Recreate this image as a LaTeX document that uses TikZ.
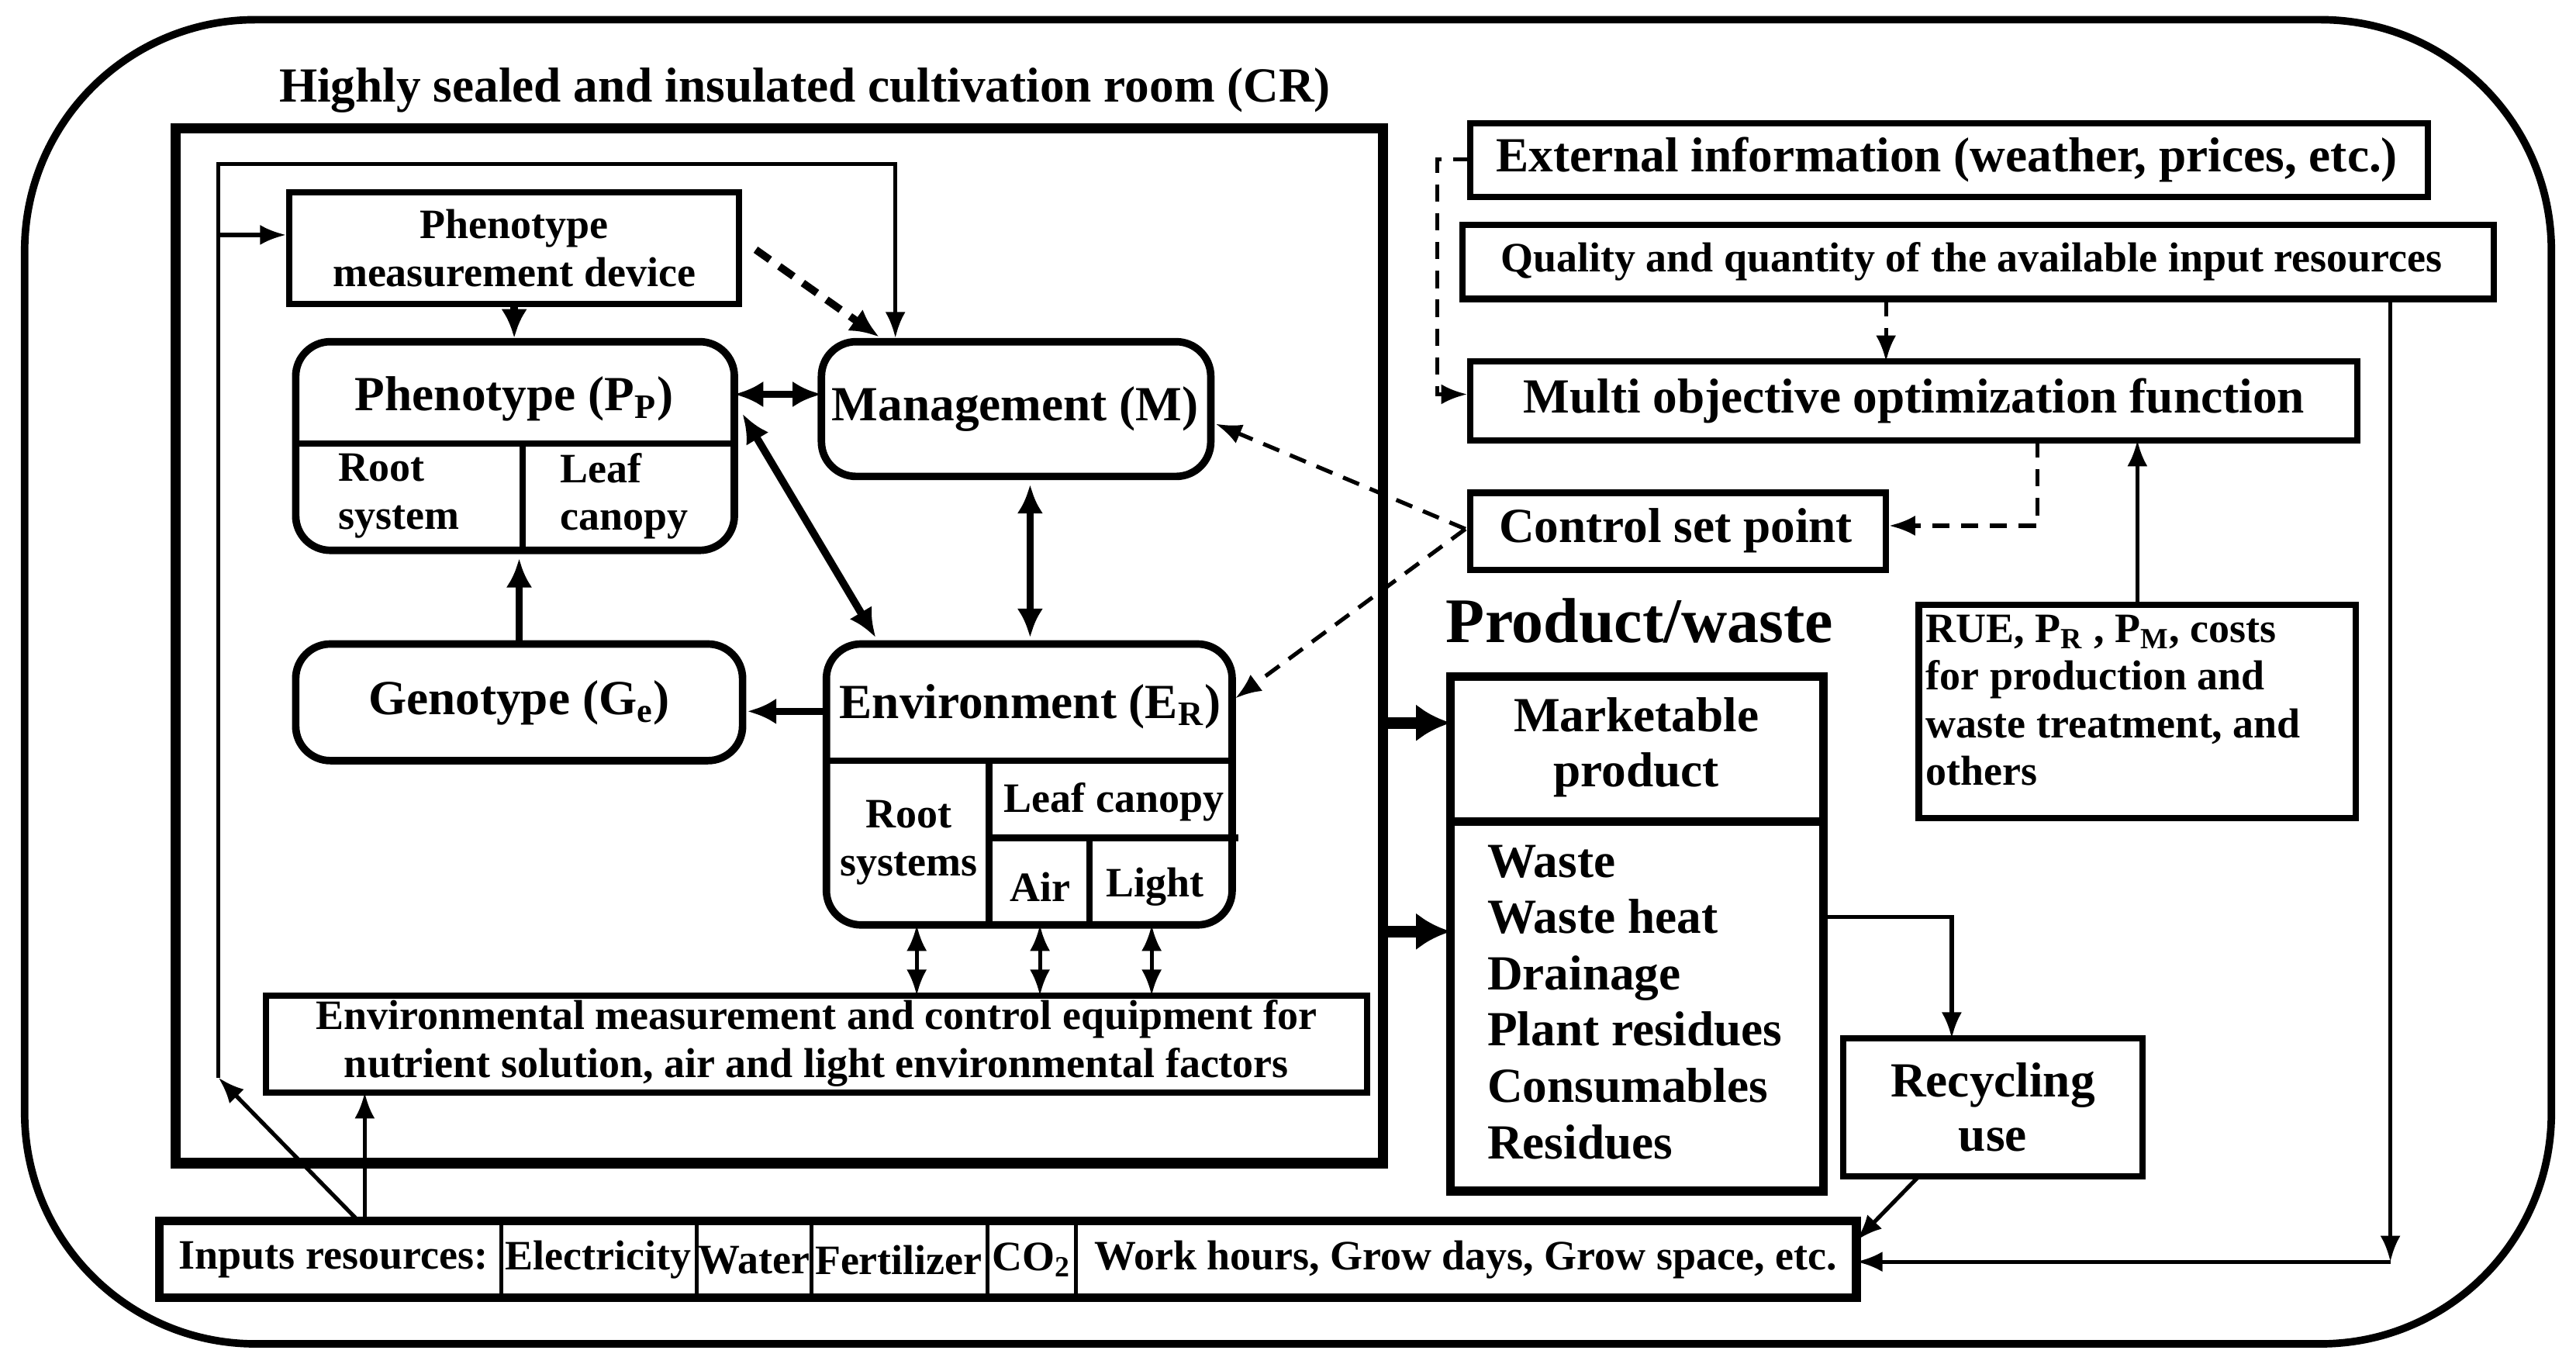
\documentclass[tikz,border=0pt]{standalone}
\usepackage{fontspec}
\setmainfont{Liberation Serif}
\usetikzlibrary{arrows.meta,fit,positioning}
\begin{document}
\begin{tikzpicture}[x=0.02cm,y=-0.02cm,
  box/.style={draw,line width=2.2pt,inner sep=0pt},
  rbox/.style={box,rounded corners=12pt,line width=2.6pt},
  thin/.style={line width=1.4pt},
  ar/.style={thin,-{Latex[length=9pt,width=7pt]}},
  dar/.style={thin,{Latex[length=9pt,width=7pt]}-{Latex[length=9pt,width=7pt]}},
  tar/.style={line width=2.6pt,-{Latex[length=10pt,width=9pt]}},
  tdar/.style={line width=2.6pt,{Latex[length=10pt,width=9pt]}-{Latex[length=10pt,width=9pt]}},
  mydash/.style={dash pattern=on 6pt off 4pt},
  txt/.style={font=\bfseries\fontsize{14.5}{16.5}\selectfont,align=center,inner sep=0pt},
  big/.style={font=\bfseries\fontsize{17}{19}\selectfont}]
\useasboundingbox (0,0) rectangle (1568,830);
\draw[line width=2.6pt,rounded corners=80] (15,12) rectangle (1553,818);
\node[txt,big] (title) at (490,55) {Highly sealed and insulated cultivation room (CR)};
\node[draw,line width=3.5pt,fit={(107,78)(842,708)},inner sep=0pt] (cr) {};
% boxes
\node[box,fit={(176,117)(450,185)}] (pm) {};
\node[txt] (pmt) at (313,151) {Phenotype\\measurement device};
\node[rbox,fit={(180,208)(447,335)}] (ph) {};
\node[txt,big] (pht) at (313,243) {Phenotype (P\textsubscript{P})};
\draw[box] (180,270) -- (447,270) (318,270) -- (318,335);
\node[txt,align=left] (root) at (243,302) {Root\\system};
\node[txt,align=left] (leaf) at (380,302) {Leaf\\canopy};
\node[rbox,fit={(500,208)(737,290)}] (mg) {};
\node[txt,big] (mgt) at (618,249) {Management (M)};
\node[rbox,fit={(180,392)(452,463)}] (ge) {};
\node[txt,big] (get) at (316,428) {Genotype (G\textsubscript{e})};
\node[rbox,fit={(503,392)(750,563)}] (en) {};
\node[txt,big] (ent) at (627,430) {Environment (E\textsubscript{R})};
\draw[box] (503,463) -- (750,463) (602,463) -- (602,563) (602,510) -- (754,510) (663,510) -- (663,563);
\node[txt] (rs) at (553,513) {Root\\systems};
\node[txt] (lc) at (678,488) {Leaf canopy};
\node[txt] (air) at (633,540) {Air};
\node[txt] (lig) at (703,540) {Light};
\node[box,fit={(162,606)(832,665)}] (em) {};
\node[txt] (emt) at (497,635) {Environmental measurement and control equipment for\\nutrient solution, air and light environmental factors};
\coordinate (em1) at (558,606); \coordinate (em2) at (633,606); \coordinate (em3) at (701,606);
\coordinate (en1) at (558,563); \coordinate (en2) at (633,563); \coordinate (en3) at (701,563);
% right side
\node[box,fit={(895,75)(1478,120)}] (ext) {};
\node[txt,big] (extt) at (1185,97) {External information (weather, prices, etc.)};
\node[box,fit={(890,137)(1518,182)}] (qu) {};
\node[txt] (qut) at (1200,159) {Quality and quantity of the available input resources};
\node[box,fit={(895,220)(1435,268)}] (mo) {};
\node[txt,big] (mot) at (1165,244) {Multi objective optimization function};
\node[box,fit={(895,300)(1148,347)}] (cs) {};
\node[txt,big] (cst) at (1020,323) {Control set point};
\node[box,fit={(1168,368)(1434,498)}] (rue) {};
\node[txt,align=left,anchor=north west] (ruet) at (1172,374) {RUE, P\textsubscript{R} , P\textsubscript{M}, costs\\for production and\\waste treatment, and\\others};
\node[txt,font=\bfseries\fontsize{22}{24}\selectfont] (pw) at (998,378) {Product/waste};
\node[box,fit={(883,412)(1110,725)},line width=3pt] (mk) {};
\draw[line width=3pt] (883,500) -- (1110,500);
\node[txt,big] (mkt) at (996,455) {Marketable\\product};
\node[txt,align=left,anchor=north west,font=\bfseries\fontsize{17}{19.5}\selectfont] (wt) at (905,514) {Waste\\Waste heat\\Drainage\\Plant residues\\Consumables\\Residues};
\node[box,fit={(1122,632)(1304,716)}] (rc) {};
\node[txt,big] (rct) at (1213,674) {Recycling\\use};
% inputs
\node[draw,line width=3pt,fit={(97,743)(1130,790)},inner sep=0pt] (in) {};
\draw[thin] (305,743)--(305,790) (424,743)--(424,790) (494,743)--(494,790) (601,743)--(601,790) (655,743)--(655,790);
\node[txt] (i0) at (203,767) {Inputs resources:};
\node[txt] (i1) at (364,767) {Electricity};
\node[txt] (i2) at (459,767) {Water};
\node[txt] (i3) at (547,767) {Fertilizer};
\node[txt] (i4) at (628,767) {CO\textsubscript{2}};
\node[txt] (i5) at (892,767) {Work hours, Grow days, Grow space, etc.};
% arrows
\coordinate (a0) at (218,743); \coordinate (a1) at (133,656);
\coordinate (a2) at (133,100); \coordinate (a3) at (545,100); \coordinate (a4) at (133,143);
\draw[ar] (a0) -- (a1);
\draw[ar] (a1) -- (a2) -- (a3) -- (mg.north -| a3);
\draw[ar] (a4) -- (pm.west |- a4);
\draw[ar] (222,743) -- (222,665);
\draw[tar] (pm.south -| pht) -- (ph.north -| pht);
\draw[tar,mydash] (460,152) -- (535,205);
\draw[tdar] (447,240) -- (500,240);
\draw[tdar] (452,252) -- (533,388);
\draw[tdar] (627,295) -- (627,388);
\draw[tar] (316,392) -- (316,340);
\draw[tar] (503,433) -- (455,433);
\draw[dar] (en1) -- (em1); \draw[dar] (en2) -- (em2); \draw[dar] (en3) -- (em3);
\draw[ar,mydash] (892,322) -- (740,258);
\draw[ar,mydash] (892,322) -- (752,425);
\draw[ar,mydash] (895,97) -- (875,97) -- (875,240) -- (mo.west |- 0,240);
\draw[ar,mydash] (1148,182) -- (1148,220);
\draw[ar,mydash] (1240,268) -- (1240,320) -- (cs.east |- 0,320);
\draw[ar] (1301,368) -- (1301,268);
\draw[ar] (1455,182) -- (1455,768);
\draw[ar] (1455,768) -- (1130,768);
\draw[line width=4pt,-{Latex[length=12pt,width=13pt]}] (842,440) -- (883,440);
\draw[line width=4pt,-{Latex[length=12pt,width=13pt]}] (842,567) -- (883,567);
\draw[ar] (1110,558) -- (1188,558) -- (1188,632);
\draw[ar] (1168,716) -- (1130,755);
\end{tikzpicture}
\end{document}
